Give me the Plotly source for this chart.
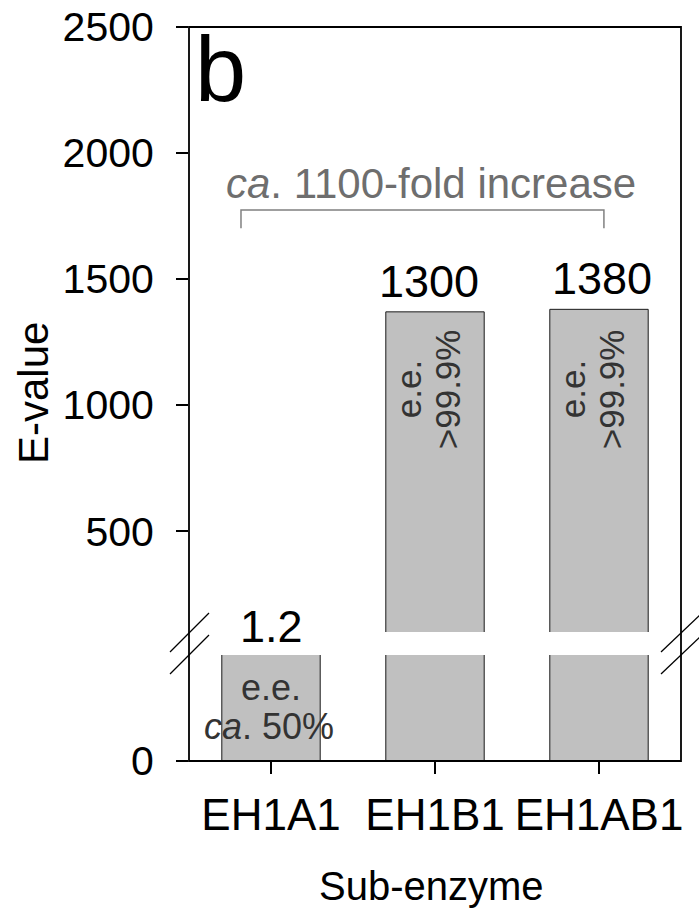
import plotly.graph_objects as go

# ---- data ----
categories = ["EH1A1", "EH1B1", "EH1AB1"]
e_values = [1.2, 1370, 1380]            # bar heights
value_labels = ["1.2", "1300", "1380"]   # numbers printed above bars
upper_ticks = [500, 1000, 1500, 2000, 2500]
lower_ticks = [0]
fold_text = "<i>ca</i>. 1100-fold increase"

FONT = "Liberation Sans, Arial, sans-serif"
BAR_FILL = "#c0c0c0"
BAR_LINE = "#1a1a1a"

W, H = 699, 912
L, R, T, B = 189, 18, 27, 151
PW, PH = W - L - R, H - T - B


def px(x):
    return (x - L) / PW


def py(y):
    return (H - B - y) / PH


upper_dom = [py(632), 1.0]
lower_dom = [0.0, py(655)]

fig = go.Figure()
for ya in ("y", "y2"):
    fig.add_trace(go.Bar(
        x=categories, y=e_values, yaxis=ya, xaxis="x" if ya == "y" else "x2",
        width=0.6, marker=dict(color=BAR_FILL, line=dict(color=BAR_LINE, width=1)),
        showlegend=False, hoverinfo="skip"))

axis_common = dict(showgrid=False, zeroline=False, showline=False, automargin=False,
                   ticks="outside", ticklen=12, tickwidth=1.5, tickcolor="black")

fig.update_layout(
    width=W, height=H,
    margin=dict(l=L, r=R, t=T, b=B, pad=0, autoexpand=False),
    paper_bgcolor="white", plot_bgcolor="white",
    bargap=0.4,
    xaxis=dict(domain=[0, 1], range=[-0.5, 2.5], type="category",
               anchor="y", ticklabelstandoff=3,
               tickfont=dict(family=FONT, size=44, color="black"), **axis_common),
    xaxis2=dict(domain=[0, 1], range=[-0.5, 2.5], type="category",
                anchor="y2", matches="x", showticklabels=False, visible=False),
    yaxis=dict(domain=lower_dom, range=[0, 1.15], tickvals=lower_ticks,
               anchor="x", ticklabelstandoff=14,
               tickfont=dict(family=FONT, size=41, color="black"), **axis_common),
    yaxis2=dict(domain=upper_dom, range=[100, 2500], tickvals=upper_ticks,
                anchor="x2", ticklabelstandoff=14,
                tickfont=dict(family=FONT, size=41, color="black"), **axis_common),
)

shapes = []
# frame
shapes.append(dict(type="rect", xref="paper", yref="paper", x0=0, x1=1, y0=0, y1=1,
                   line=dict(color="black", width=1.8), layer="above"))
# axis break slashes
for x0, x1 in ((170, 209), (661, 702)):
    for y0, y1 in ((652, 613), (674, 635)):
        shapes.append(dict(type="line", xref="paper", yref="paper",
                           x0=px(x0), x1=px(x1), y0=py(y0), y1=py(y1),
                           line=dict(color="black", width=1.3)))
# bracket over bars
shapes.append(dict(type="path", xref="x2", yref="y2",
                   path="M -0.183,1702 L -0.183,1774 L 2.03,1774 L 2.03,1702",
                   line=dict(color="#808080", width=1.5)))
fig.update_layout(shapes=shapes)

ann = []
# panel letter
ann.append(dict(text="b", xref="paper", yref="paper", x=px(193), y=py(69),
                xanchor="left", yanchor="middle", showarrow=False,
                font=dict(family=FONT, size=92, color="black")))
# value labels
ann.append(dict(text=value_labels[0], xref="x", yref="y", x=categories[0], y=1.15,
                xanchor="center", yanchor="bottom", yshift=1, showarrow=False,
                font=dict(family=FONT, size=45, color="black")))
for i, dx in ((1, -6), (2, 3)):
    ann.append(dict(text=value_labels[i], xref="x2", yref="y2", x=categories[i],
                    y=e_values[i], xanchor="center", yanchor="bottom", yshift=3,
                    xshift=dx, showarrow=False,
                    font=dict(family=FONT, size=45, color="black")))
# e.e. texts inside bars (rotated, two columns)
for i in (1, 2):
    for txt, dx in (("e.e.", -27), (">99.9%", 12)):
        ann.append(dict(text=txt, xref="x2", yref="y2", x=categories[i],
                        y=1063, xshift=dx, textangle=-90, showarrow=False,
                        xanchor="center", yanchor="middle",
                        font=dict(family=FONT, size=35, color="#333333")))
ann.append(dict(text="e.e.", xref="x", yref="paper", x=categories[0], y=py(687),
                showarrow=False, xanchor="center", yanchor="middle",
                font=dict(family=FONT, size=36, color="#333333")))
ann.append(dict(text="<i>ca</i>. 50%", xref="x", yref="paper", x=categories[0], y=py(726),
                xshift=-2, showarrow=False, xanchor="center", yanchor="middle",
                font=dict(family=FONT, size=36, color="#333333")))
# fold increase
ann.append(dict(text=fold_text, xref="paper", yref="paper", x=px(431), y=py(183),
                showarrow=False, xanchor="center", yanchor="middle",
                font=dict(family=FONT, size=42, color="#6e6e6e")))
# axis titles
ann.append(dict(text="E-value", xref="paper", yref="paper", x=px(33), y=py(393),
                textangle=-90, showarrow=False, xanchor="center", yanchor="middle",
                font=dict(family=FONT, size=42, color="black")))
ann.append(dict(text="Sub-enzyme", xref="paper", yref="paper", x=px(431), y=py(886),
                showarrow=False, xanchor="center", yanchor="middle",
                font=dict(family=FONT, size=40, color="black")))
fig.update_layout(annotations=ann)

fig.write_html("out.html", config={"displayModeBar": False},
               post_script="document.body.style.margin='0';")
